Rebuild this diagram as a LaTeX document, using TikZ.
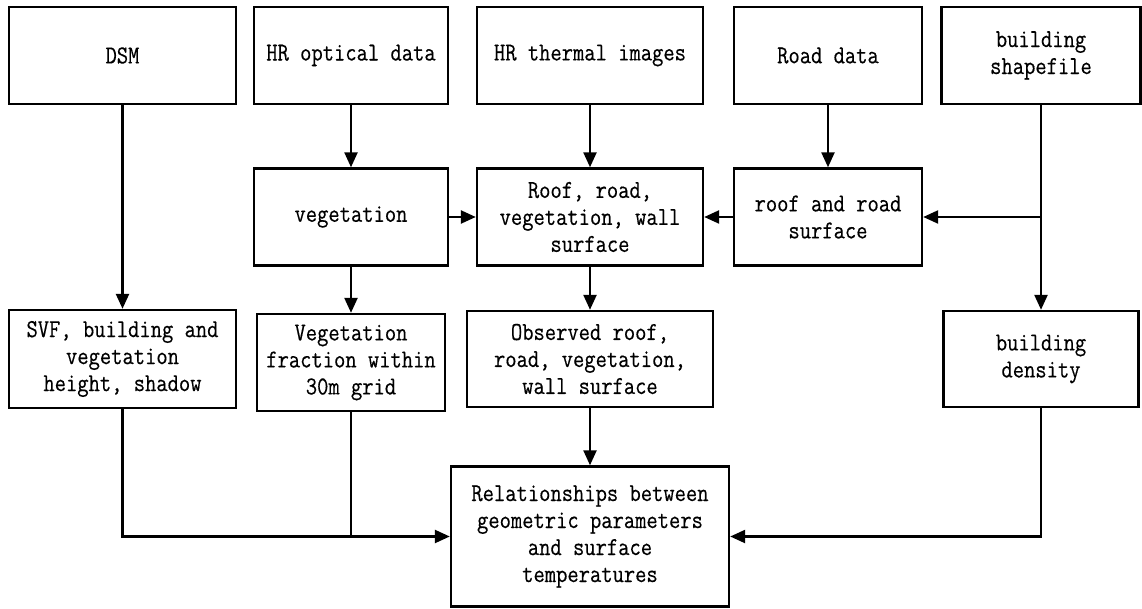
\documentclass[tikz,border=0pt]{standalone}
\usepackage{fontspec}
\newfontfamily\boxfont{Latin Modern Mono}[FakeStretch=0.85,FakeBold=0.4]
\usetikzlibrary{arrows.meta}
\begin{document}
\begin{tikzpicture}[x=1pt,y=-1pt,
  box/.style={draw,line width=2.4pt,align=center,inner sep=2pt,
    font=\fontsize{25.8}{27}\selectfont\boxfont},
  conn/.style={line width=2.4pt},
  arr/.style={conn,-{Triangle[length=15pt,width=13pt]}}]
\useasboundingbox (0,0) rectangle (1142,609);
% row 1
\node[box,minimum width=227pt,minimum height=97pt] (dsm) at (122.5,55.5) {DSM};
\node[box,minimum width=194pt,minimum height=97pt] (hro) at (351,55.5) {HR optical data};
\node[box,minimum width=226pt,minimum height=97pt] (hrt) at (590,55.5) {HR thermal images};
\node[box,minimum width=188pt,minimum height=97pt] (road) at (828,55.5) {Road data};
\node[box,minimum width=199pt,minimum height=97pt] (shp) at (1041,55.5) {building\\shapefile};
% row 2
\node[box,minimum width=194pt,minimum height=97pt] (veg) at (351,217) {vegetation};
\node[box,minimum width=226pt,minimum height=97pt] (roof) at (590,217) {Roof, road,\\vegetation, wall\\surface};
\node[box,minimum width=188pt,minimum height=97pt] (rr) at (828,217) {roof and road\\surface};
% row 3
\node[box,minimum width=227pt,minimum height=98pt] (svf) at (122.5,359) {SVF, building and\\vegetation\\height, shadow};
\node[box,minimum width=188pt,minimum height=97pt] (vf) at (351,362.5) {Vegetation\\fraction within\\30m grid};
\node[box,minimum width=246pt,minimum height=96pt] (obs) at (590,359) {Observed roof,\\road, vegetation,\\wall surface};
\node[box,minimum width=195pt,minimum height=96pt] (dens) at (1041,359) {building\\density};
% row 4
\node[box,minimum width=278pt,minimum height=140pt] (rel) at (590,536.5) {Relationships between\\geometric parameters\\and surface\\temperatures};
% connectors
\draw[arr] (dsm.south) -- (svf.north);
\draw[arr] (hro.south) -- (veg.north);
\draw[arr] (hrt.south) -- (roof.north);
\draw[arr] (road.south) -- (rr.north);
\draw[arr] (shp.south) -- (dens.north);
\draw[arr] (shp.south |- rr.east) -- (rr.east);
\draw[arr] (veg.east) -- (roof.west);
\draw[arr] (rr.west) -- (roof.east);
\draw[arr] (veg.south) -- (vf.north);
\draw[arr] (roof.south) -- (obs.north);
\draw[arr] (obs.south) -- (rel.north);
\draw[arr] (svf.south) |- (rel.west);
\draw[conn] (vf.south) -- (vf.south |- rel.west);
\draw[arr] (dens.south) |- (rel.east);
\end{tikzpicture}
\end{document}
